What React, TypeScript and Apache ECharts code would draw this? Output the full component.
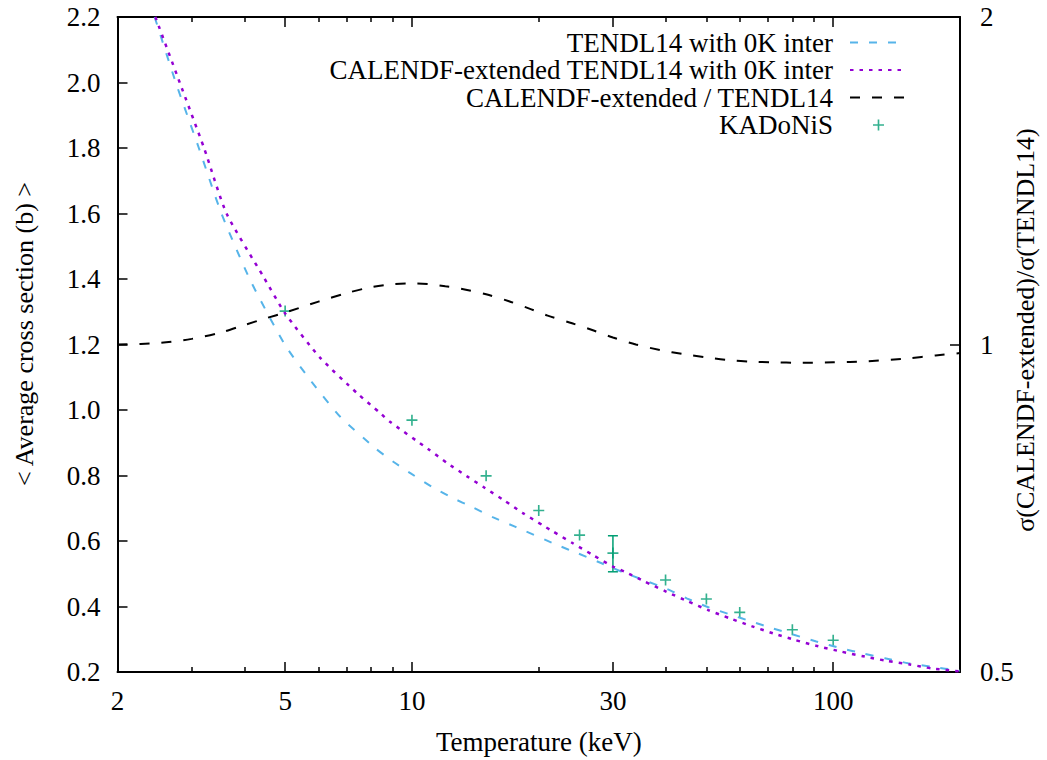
import React, { useEffect, useRef } from "react";
import * as echarts from "echarts";

// ---- data ----
const tendlX = [2.45, 2.75, 3.12, 3.53, 4.13, 5.0, 5.78, 6.75, 8.17, 9.03, 10, 11.14, 12.42, 13.98, 15.6, 17.56, 22.1, 24.8, 28.2, 31.5, 35.1, 40.4, 44.9, 50, 57.4, 64, 72, 81, 91.2, 104.7, 117.6, 132.6, 150.6, 171, 200];
const tendlY = [2.2, 2.0, 1.8, 1.6, 1.397, 1.198, 1.086, 0.98, 0.884, 0.842, 0.804, 0.766, 0.733, 0.702, 0.672, 0.644, 0.588, 0.562, 0.532, 0.506, 0.483, 0.453, 0.425, 0.4, 0.374, 0.354, 0.333, 0.313, 0.293, 0.272, 0.257, 0.242, 0.227, 0.216, 0.204];

const calX = [2.46, 2.81, 3.21, 3.63, 4.44, 5.0, 6.05, 7.4, 8.4, 8.87, 10.92, 12.09, 13.49, 14.9, 16.6, 18.3, 20.5, 21.5, 24.1, 26.9, 30.0, 32, 35.7, 40.2, 45.3, 50.5, 56.8, 64, 72, 81.1, 91.2, 104.7, 118.9, 133.9, 152, 171, 200];
const calY = [2.2, 2.0, 1.8, 1.6, 1.407, 1.295, 1.16, 1.052, 0.991, 0.964, 0.881, 0.839, 0.798, 0.762, 0.723, 0.686, 0.647, 0.631, 0.593, 0.557, 0.522, 0.506, 0.476, 0.445, 0.415, 0.389, 0.364, 0.34, 0.318, 0.298, 0.28, 0.262, 0.247, 0.234, 0.223, 0.211, 0.202];

const ratioX = [2, 2.5, 3, 3.5, 4, 4.5, 5, 6, 7, 8, 9, 10, 11, 12, 13, 15, 17, 19, 21, 24, 27, 30, 34, 39, 44, 50, 56, 65, 73, 82, 100, 120, 150, 175, 200];
const ratioY = [1.0, 1.003, 1.012, 1.025, 1.042, 1.057, 1.07, 1.095, 1.115, 1.129, 1.136, 1.138, 1.136, 1.131, 1.126, 1.112, 1.096, 1.079, 1.063, 1.046, 1.03, 1.015, 1.0, 0.988, 0.98, 0.973, 0.968, 0.964, 0.963, 0.962, 0.963, 0.965, 0.971, 0.977, 0.982];

const kadX = [5, 10, 15, 20, 25, 30, 40, 50, 60, 80, 100];
const kadY = [1.302, 0.969, 0.799, 0.693, 0.618, 0.563, 0.481, 0.423, 0.382, 0.329, 0.297];

const errX = [30];
const errLo = [0.506];
const errHi = [0.616];

const xMajorTicks = [2, 5, 10, 30, 100];
const xMinorTicks = [3, 4, 6, 7, 8, 9, 20, 40, 50, 60, 70, 80, 90];

const names = [
  "TENDL14 with 0K inter",
  "CALENDF-extended TENDL14 with 0K inter",
  "CALENDF-extended / TENDL14",
  "KADoNiS",
];

const FONT = "Liberation Serif";
const FS = 27;

const zip = (a: number[], b: number[]) => a.map((v, i) => [v, b[i]]);

export default function App() {
  const ref = useRef<HTMLDivElement>(null);
  useEffect(() => {
    document.body.style.margin = "0";
    const chart = echarts.init(ref.current!, null, { renderer: "svg" });
    const axisLine = { show: true, onZero: false, lineStyle: { color: "#000", width: 2 } };
    const xBase = { type: "log", min: 2, max: 200, logBase: 10, splitLine: { show: false }, gridIndex: 0 };
    const plus = "path://M4.25,0h1.5v4.25h4.25v1.5h-4.25v4.25h-1.5v-4.25h-4.25v-1.5h4.25z";
    chart.setOption({
      animation: false,
      backgroundColor: "#fff",
      grid: { left: 117.5, right: 87, top: 17, bottom: 88, containLabel: false },
      legend: {
        data: [
          { name: names[0], itemStyle: { opacity: 0 } },
          { name: names[1], itemStyle: { opacity: 0 } },
          { name: names[2], itemStyle: { opacity: 0 } },
          { name: names[3] },
        ],
        orient: "vertical",
        right: 134,
        top: 24,
        align: "right",
        itemWidth: 57,
        itemHeight: 11,
        itemGap: 0.5,
        textStyle: { fontFamily: FONT, fontSize: FS, color: "#000", lineHeight: 20, padding: [0, 12, 0, 0] },
      },
      xAxis: [
        {
          ...xBase,
          position: "bottom",
          axisLine,
          axisTick: { show: true, inside: true, length: 10, customValues: xMajorTicks, lineStyle: { color: "#000", width: 1.5 } },
          axisLabel: { show: true, customValues: xMajorTicks, margin: 15, fontFamily: FONT, fontSize: FS, color: "#000", formatter: (v: number) => String(Math.round(v)) },
          name: "Temperature (keV)",
          nameLocation: "middle",
          nameGap: 56,
          nameTextStyle: { fontFamily: FONT, fontSize: FS, color: "#000" },
        },
        {
          ...xBase,
          position: "bottom",
          axisLine: { show: false, onZero: false },
          axisTick: { show: true, inside: true, length: 5, customValues: xMinorTicks, lineStyle: { color: "#000", width: 1.5 } },
          axisLabel: { show: false },
        },
        {
          ...xBase,
          position: "top",
          axisLine,
          axisTick: { show: true, inside: true, length: 10, customValues: xMajorTicks, lineStyle: { color: "#000", width: 1.5 } },
          axisLabel: { show: false },
        },
        {
          ...xBase,
          position: "top",
          axisLine: { show: false, onZero: false },
          axisTick: { show: true, inside: true, length: 5, customValues: xMinorTicks, lineStyle: { color: "#000", width: 1.5 } },
          axisLabel: { show: false },
        },
      ],
      yAxis: [
        {
          type: "value",
          min: 0.2,
          max: 2.2,
          interval: 0.2,
          position: "left",
          axisLine,
          splitLine: { show: false },
          axisTick: { show: true, inside: true, length: 10, lineStyle: { color: "#000", width: 1.5 } },
          axisLabel: { margin: 17, fontFamily: FONT, fontSize: FS, color: "#000", formatter: (v: number) => v.toFixed(1) },
        },
        {
          type: "log",
          logBase: 2,
          min: 0.5,
          max: 2,
          position: "right",
          axisLine,
          splitLine: { show: false },
          axisTick: { show: true, inside: true, length: 10, lineStyle: { color: "#000", width: 1.5 } },
          axisLabel: { margin: 20, fontFamily: FONT, fontSize: FS, color: "#000" },
        },
      ],
      graphic: [
        {
          type: "text",
          x: 24,
          y: 334,
          rotation: Math.PI / 2,
          style: { text: "< Average cross section (b) >", fill: "#000", fontFamily: FONT, fontSize: FS - 1, textAlign: "center", textVerticalAlign: "middle" },
        },
        {
          type: "text",
          x: 1025,
          y: 330,
          rotation: Math.PI / 2,
          style: { text: "σ(CALENDF-extended)/σ(TENDL14)", fill: "#000", fontFamily: FONT, fontSize: FS - 1, textAlign: "center", textVerticalAlign: "middle" },
        },
      ],
      series: [
        {
          name: names[0],
          type: "line",
          xAxisIndex: 0,
          yAxisIndex: 0,
          data: zip(tendlX, tendlY),
          symbol: "none",
          smooth: 0.2,
          lineStyle: { color: "#56b4e9", width: 2, type: [8, 11] },
          itemStyle: { color: "#56b4e9" },
        },
        {
          name: names[1],
          type: "line",
          xAxisIndex: 0,
          yAxisIndex: 0,
          data: zip(calX, calY),
          symbol: "none",
          smooth: 0.2,
          lineStyle: { color: "#9400d3", width: 2.5, type: [3.5, 6] },
          itemStyle: { color: "#9400d3" },
        },
        {
          name: names[2],
          type: "line",
          xAxisIndex: 0,
          yAxisIndex: 1,
          data: zip(ratioX, ratioY),
          symbol: "none",
          smooth: 0.3,
          lineStyle: { color: "#000", width: 2, type: [10, 12] },
          itemStyle: { color: "#000" },
        },
        {
          name: names[3],
          type: "scatter",
          xAxisIndex: 0,
          yAxisIndex: 0,
          data: zip(kadX, kadY),
          symbol: plus,
          symbolSize: 11,
          itemStyle: { color: "#009e73" },
        },
        {
          name: "KADoNiS error",
          type: "custom",
          xAxisIndex: 0,
          yAxisIndex: 0,
          data: errX.map((x, i) => [x, errLo[i], errHi[i]]),
          encode: { x: 0, y: [1, 2] },
          renderItem: (params: any, api: any) => {
            const x = api.value(0);
            const lo = api.coord([x, api.value(1)]);
            const hi = api.coord([x, api.value(2)]);
            const w = 5;
            const st = { stroke: "#009e73", lineWidth: 1.5 };
            return {
              type: "group",
              children: [
                { type: "line", shape: { x1: lo[0], y1: lo[1], x2: hi[0], y2: hi[1] }, style: st },
                { type: "line", shape: { x1: lo[0] - w, y1: lo[1], x2: lo[0] + w, y2: lo[1] }, style: st },
                { type: "line", shape: { x1: hi[0] - w, y1: hi[1], x2: hi[0] + w, y2: hi[1] }, style: st },
              ],
            };
          },
        },
      ],
    });
    return () => chart.dispose();
  }, []);
  return <div ref={ref} style={{ width: 1047, height: 760 }} />;
}
